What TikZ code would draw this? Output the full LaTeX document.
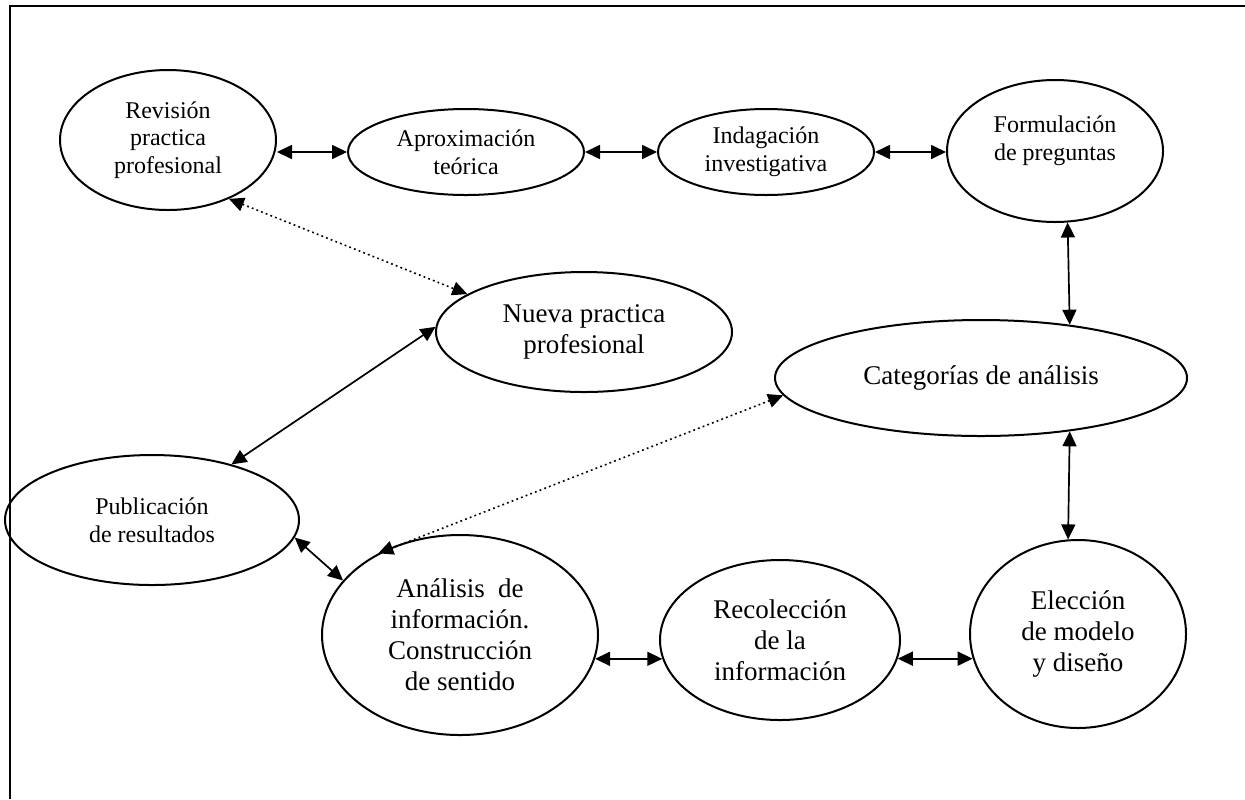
\documentclass[tikz,border=0pt]{standalone}
\usepackage{fontspec}
\setmainfont{Liberation Serif}
\usetikzlibrary{shapes.geometric,arrows.meta}
\begin{document}
\begin{tikzpicture}[x=0.5pt,y=-0.5pt,
  oval/.style={ellipse,draw,line width=1pt,inner sep=0pt,align=center},
  sm/.style={font=\fontsize{12}{13.8}\selectfont},
  lg/.style={font=\fontsize{13.5}{15.5}\selectfont},
  arr/.style={line width=0.85pt,{Triangle[length=7.5pt,width=7pt]}-{Triangle[length=7.5pt,width=7pt]}},
  darr/.style={arr,line width=0.8pt,dash pattern=on 0.9pt off 1.6pt}]
\useasboundingbox (0,0) rectangle (1245,799);
\draw[line width=1pt] (10,799) -- (10,6) -- (1245,6);
% nodes
\node[oval,sm,minimum width=108pt,minimum height=70pt] (rev) at (168,140) {Revisión\\practica\\profesional};
\node[oval,sm,minimum width=118pt,minimum height=43pt] (apr) at (466,152) {Aproximación\\teórica};
\node[oval,sm,minimum width=108pt,minimum height=43pt] (ind) at (766,152) {Indagación\\investigativa};
\node[oval,sm,minimum width=108pt,minimum height=71pt] (for) at (1055,151) {};
\node[sm,align=center] (fortext) at ([yshift=5pt]for.center) {Formulación\\de preguntas};
\node[oval,lg,minimum width=148pt,minimum height=60pt] (nue) at (584,332) {Nueva practica\\profesional};
\node[oval,lg,minimum width=206pt,minimum height=58pt] (cat) at (981,378) {Categorías de análisis};
\node[oval,sm,minimum width=147pt,minimum height=65pt] (pub) at (152,520) {Publicación\\de resultados};
\node[oval,lg,minimum width=138pt,minimum height=100pt] (ana) at (460,635) {Análisis\ \ de\\información.\\Construcción\\de sentido};
\node[oval,lg,minimum width=120pt,minimum height=80pt] (rec) at (780,640) {Recolección\\de la\\información};
\node[oval,lg,minimum width=108pt,minimum height=94pt] (ele) at (1078,634) {Elección\\de modelo\\y diseño};
% connectors
\draw[arr] (rev.east |- apr.west) -- (apr.west);
\draw[arr] (apr.east) -- (ind.west);
\draw[arr] (ind.east) -- (for.west |- ind.east);
\draw[darr] (rev.-44) -- (nue.162);
\draw[arr] (nue.178) -- (pub.35);
\draw[arr] (pub.-7) -- (ana.155);
\draw[arr] (for.-80) -- (cat.31);
\draw[arr] (cat.-31) -- (ele.96);
\draw[darr] (cat.185) -- (ana.135);
\draw[arr] (ana.-10) -- (rec.189 |- ana.-10);
\draw[arr] (rec.351) -- (ele.193 |- rec.351);
\end{tikzpicture}
\end{document}
